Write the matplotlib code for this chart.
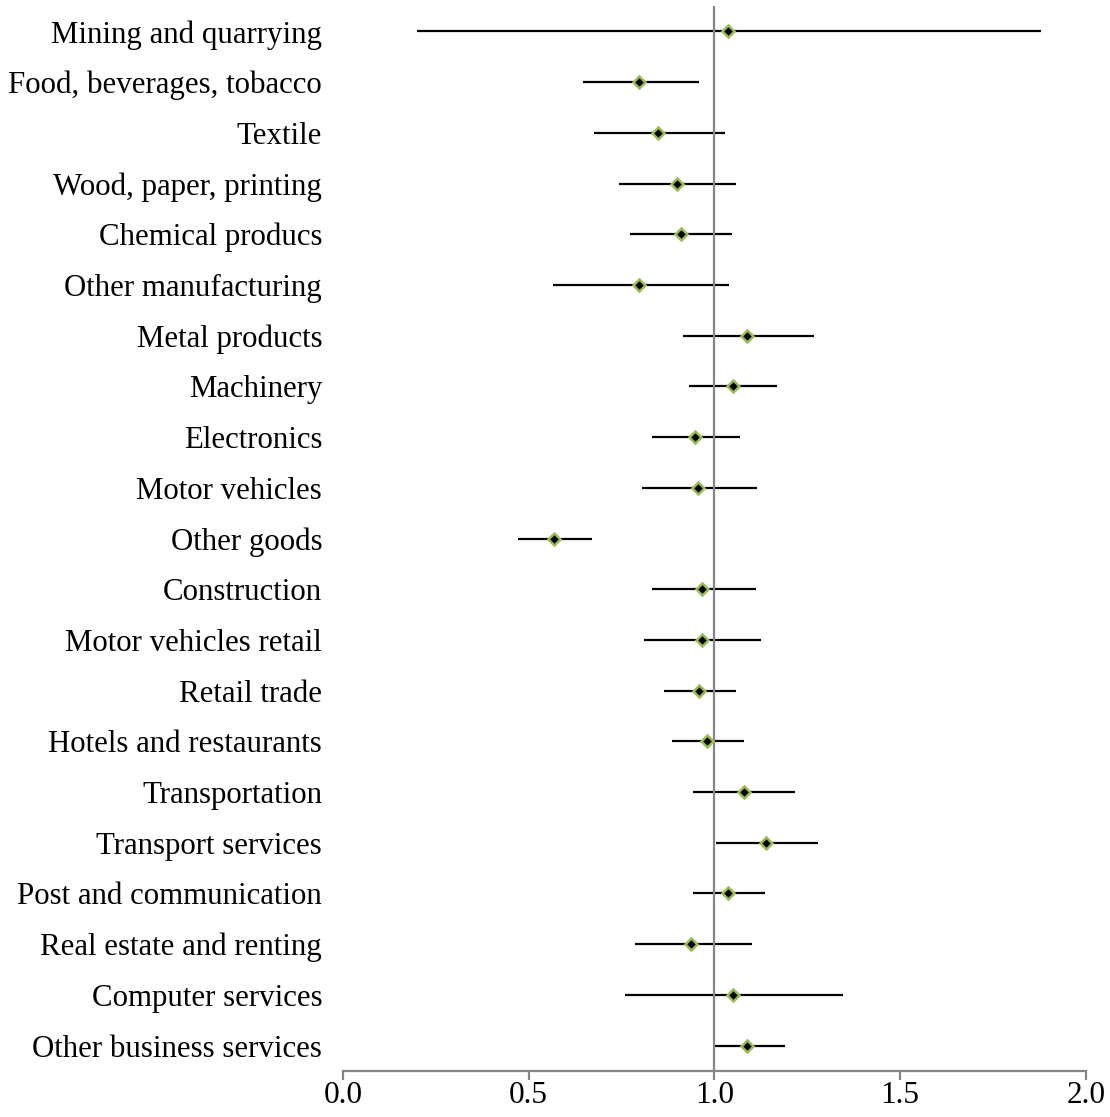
import matplotlib
matplotlib.use("Agg")
import matplotlib.pyplot as plt
import numpy as np

# sectors, point estimates and interval bounds (top to bottom)
sectores = [
    "Mining and quarrying", "Food, beverages, tobacco", "Textile",
    "Wood, paper, printing", "Chemical producs", "Other manufacturing",
    "Metal products", "Machinery", "Electronics", "Motor vehicles",
    "Other goods", "Construction", "Motor vehicles retail", "Retail trade",
    "Hotels and restaurants", "Transportation", "Transport services",
    "Post and communication", "Real estate and renting", "Computer services",
    "Other business services",
]
estimacion = [1.037, 0.798, 0.848, 0.899, 0.909, 0.798, 1.087, 1.049, 0.948,
              0.957, 0.568, 0.968, 0.968, 0.958, 0.979, 1.079, 1.138, 1.038,
              0.937, 1.049, 1.088]
inferior = [0.199, 0.645, 0.677, 0.743, 0.773, 0.566, 0.916, 0.932, 0.832,
            0.805, 0.471, 0.832, 0.811, 0.865, 0.886, 0.943, 1.005, 0.943,
            0.786, 0.759, 0.996]
superior = [1.880, 0.959, 1.029, 1.058, 1.048, 1.040, 1.269, 1.169, 1.069,
            1.115, 0.671, 1.112, 1.126, 1.058, 1.080, 1.217, 1.279, 1.137,
            1.101, 1.347, 1.190]
ticks_x = [0.0, 0.5, 1.0, 1.5, 2.0]

plt.rcParams['font.family'] = ['Liberation Serif', 'DejaVu Serif']

gris = '#868686'
verde = '#9BBB59'

fig = plt.figure(figsize=(11.10, 11.17), dpi=100)
ax = fig.add_axes([343 / 1110, 1 - 1071 / 1117, (1085.7 - 343) / 1110, 1065 / 1117])

y = np.arange(len(sectores))
est = np.array(estimacion)
err = [est - np.array(inferior), np.array(superior) - est]

ax.errorbar(est, y, xerr=err, fmt='none', ecolor='black', elinewidth=1.6,
            capsize=0, zorder=2)
ax.axvline(1.0, color=gris, lw=1.6, zorder=3)
ax.plot(est, y, linestyle='none', marker='D', markersize=6.5,
        markerfacecolor='black', markeredgecolor=verde, markeredgewidth=1.8,
        zorder=4)

ax.set_xlim(0, 2)
ax.set_ylim(len(sectores) - 0.5, -0.5)
ax.set_xticks(ticks_x)
ax.set_xticklabels([f"{t:.1f}" for t in ticks_x])
ax.set_yticks(y)
ax.set_yticklabels(sectores)

for lado in ['top', 'right', 'left']:
    ax.spines[lado].set_visible(False)
ax.spines['bottom'].set_color(gris)
ax.spines['bottom'].set_linewidth(1.6)

ax.tick_params(axis='x', colors=gris, direction='out', length=6.5, width=1.6,
               labelcolor='black', labelsize=22.5, pad=0.5)
ax.tick_params(axis='y', length=0, labelsize=22.2, pad=15)

fig.savefig("out.png", dpi=100)
